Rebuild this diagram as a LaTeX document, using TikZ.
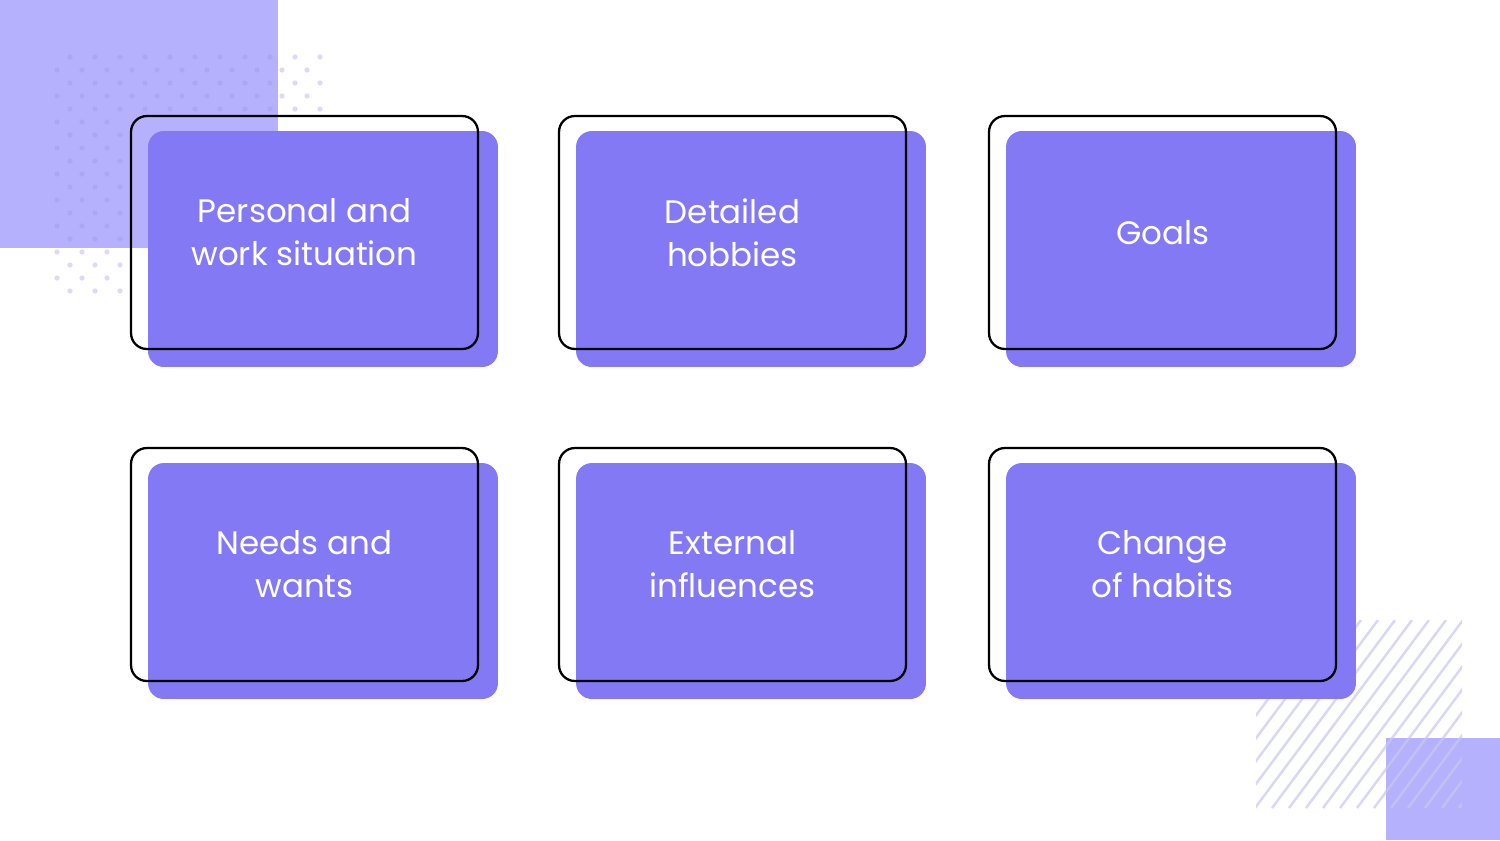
\documentclass[tikz,border=0pt]{standalone}
\usepackage{fontspec}
\setmainfont{Poppins}
\usepackage{tikz}
\usetikzlibrary{positioning, calc}
\definecolor{boxfill}{HTML}{8479F5}
\definecolor{lightsq}{HTML}{B5B1FC}
\definecolor{dotcol}{HTML}{9C95E0}
\definecolor{hatchcol}{HTML}{C9C7EE}
\tikzset{
  card/.style={rectangle, rounded corners=9pt, minimum width=7cm, minimum height=4.72cm, fill=boxfill, draw=none},
  frame/.style={rectangle, rounded corners=9pt, minimum width=6.94cm, minimum height=4.66cm, draw=black, line width=1.3pt},
  label/.style={text=white, align=center, font=\fontsize{18.5}{24.5}\selectfont}
}
\begin{document}
\begin{tikzpicture}[x=0.02cm, y=-0.02cm]
    \useasboundingbox (0,0) rectangle (1500,840);
    % background decorations
    \fill[lightsq] (0,0) rectangle (278,248);
    \foreach \r in {0,...,18} {
      \pgfmathsetmacro{\yy}{57+13*\r}
      \pgfmathsetmacro{\xo}{mod(\r,2)==0 ? 70 : 57}
      \pgfmathsetmacro{\xe}{\yy<112 ? 322 : 130}
      \foreach \c in {0,...,11} {
        \pgfmathsetmacro{\xx}{\xo+25*\c}
        \ifdim\xx pt<\xe pt \fill[dotcol, opacity=0.35] (\xx,\yy) circle (2.6);\fi
      }
    }
    \fill[lightsq] (1386,738) rectangle (1500,840);
    \begin{scope}
      \clip (1256,620) rectangle (1462,808);
      \foreach \x in {1000,1017,...,1480}
        \draw[hatchcol, opacity=0.7, line width=1.4pt] (\x,808) -- ++(140,-188);
    \end{scope}
    % cards
    \foreach \name/\dx/\dy/\txt in {pws/0/0/{Personal and\\work situation}, hob/428/0/{Detailed\\hobbies}, goa/858/0/{Goals},
        nee/0/332/{Needs and\\wants}, ext/428/332/{External\\influences}, cha/858/332/{Change\\of habits}} {
      \node (\name) [card] at (323+\dx, 249+\dy) {};
      \node (\name-f) [frame] at (304.5+\dx, 232.5+\dy) {};
      \node (\name-t) [label] at (\name-f) {\txt};
    }
\end{tikzpicture}
\end{document}
